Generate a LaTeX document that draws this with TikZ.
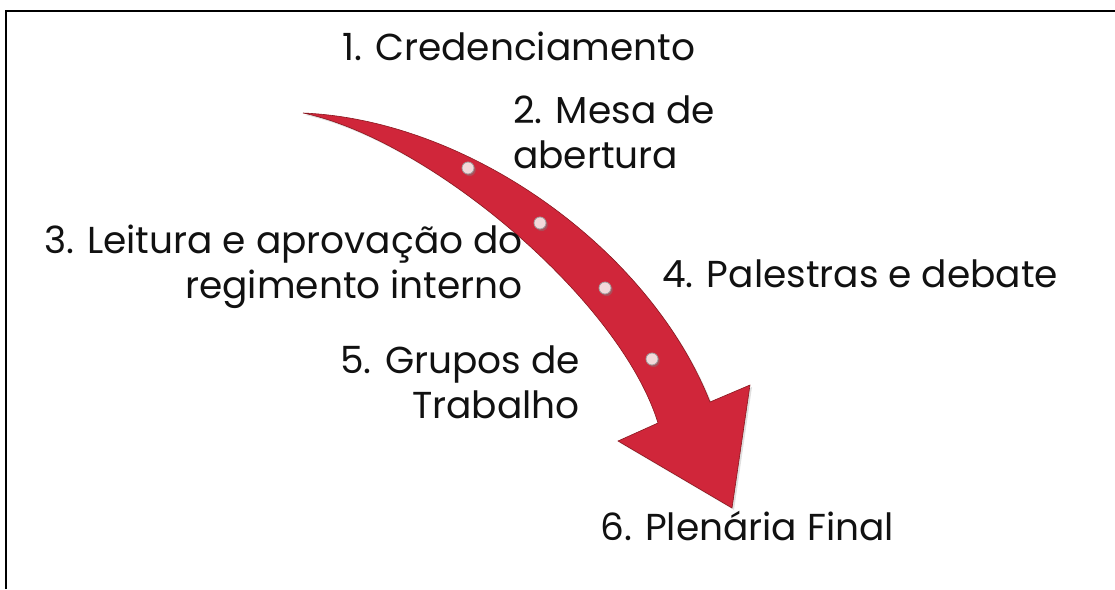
\documentclass[tikz,border=0pt]{standalone}
\usepackage{fontspec}
\setmainfont{Poppins}
\usetikzlibrary{shadows}
\definecolor{ink}{HTML}{111111}
\definecolor{arrowred}{HTML}{D0263A}
\definecolor{arrowedge}{HTML}{8A1820}
\definecolor{dotfill}{HTML}{F3D8DA}

\begin{document}
\begin{tikzpicture}[x=1pt,y=-1pt,
  steplabel/.style={font=\fontsize{37.5}{45}\selectfont,color=ink,inner sep=0pt},
  stepdot/.style={circle,minimum size=12pt,inner sep=0pt,fill=dotfill,draw=gray!75,line width=0.8pt,
    circular drop shadow={shadow xshift=1.2pt,shadow yshift=-1.5pt,opacity=0.45}},
  arrowbody/.style={fill=arrowred,draw=arrowedge,line width=0.6pt,
    drop shadow={shadow xshift=2pt,shadow yshift=-2pt,opacity=0.25}}]
  \useasboundingbox (0,0) rectangle (1115,589);
  % frame
  \draw[line width=2pt] (6,589) -- (6,10.5) -- (1115,10.5);

  % the curved arrow
  \path[arrowbody] (303,113) .. controls (470,120) and (650,250) .. (710,402)
    -- (750,385) -- (732,508) -- (618,441) -- (658,423)
    .. controls (620,300) and (430,140) .. cycle;
  \foreach \x/\y [count=\i] in {468/168,540/223,605/288,652/359}
    \node[stepdot] (dot\i) at (\x,\y) {};

  % steps (base = last line)
  \node[steplabel,anchor=base west] (credenciamento) at (342,60) {1. Credenciamento};
  \node[steplabel,anchor=base west,align=left] (mesa) at (513,168) {2. Mesa de\\abertura};
  \node[steplabel,anchor=base east,align=right] (leitura) at (523,298) {3. Leitura e aprovação do\\regimento interno};
  \node[steplabel,anchor=base west] (palestras) at (662,287) {4. Palestras e debate};
  \node[steplabel,anchor=base east,align=right] (grupos) at (580,418) {5. Grupos de\\Trabalho};
  \node[steplabel,anchor=base west] (plenaria) at (600,540) {6. Plenária Final};
\end{tikzpicture}
\end{document}
